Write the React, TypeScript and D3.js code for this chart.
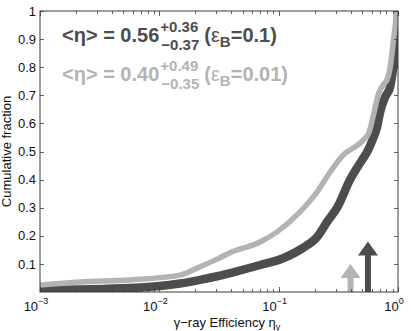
import { useEffect, useRef } from 'react';
import * as d3 from 'd3';

// ── Data (eta, cumulative fraction) ───────────────────────────────────────
const etaB01 = [0.001, 0.00567, 0.0149, 0.0219, 0.0305, 0.0415, 0.0699, 0.109, 0.16, 0.21, 0.255, 0.309, 0.397, 0.50, 0.551, 0.61, 0.668, 0.708, 0.78, 0.859, 0.90, 0.982, 1.0];
const cdfB01 = [0.007, 0.014, 0.03, 0.043, 0.056, 0.07, 0.096, 0.12, 0.157, 0.196, 0.25, 0.30, 0.40, 0.47, 0.498, 0.54, 0.587, 0.64, 0.694, 0.73, 0.78, 0.897, 1.0];

const etaB001 = [0.001, 0.00216, 0.00567, 0.0149, 0.0207, 0.0305, 0.0392, 0.0699, 0.097, 0.151, 0.21, 0.27, 0.347, 0.51, 0.573, 0.617, 0.69, 0.75, 0.81, 0.86, 0.91, 0.98];
const cdfB001 = [0.025, 0.036, 0.043, 0.06, 0.085, 0.117, 0.14, 0.178, 0.214, 0.285, 0.356, 0.427, 0.487, 0.54, 0.569, 0.623, 0.708, 0.737, 0.755, 0.80, 0.886, 1.0];

// median arrows: [eta, arrow tip height]
const arrowB01 = [0.56, 0.18];
const arrowB001 = [0.40, 0.10];

const legendRows = [
  { med: '0.56', up: '+0.36', lo: '\u22120.37', eps: '0.1', color: '#4d4d4d' },
  { med: '0.40', up: '+0.49', lo: '\u22120.35', eps: '0.01', color: '#b3b3b3' },
];

const yTicks = [0.1, 0.2, 0.3, 0.4, 0.5, 0.6, 0.7, 0.8, 0.9, 1];
const xMajor = [1e-3, 1e-2, 1e-1, 1];
const xLabels = ['\u22123', '\u22122', '\u22121', '0'];

const DARK = '#4d4d4d';
const LIGHT = '#b3b3b3';
const FONT = '"Liberation Sans", Arial, Helvetica, sans-serif';

export default function App() {
  const svgRef = useRef<SVGSVGElement>(null);

  const W = 411, H = 331;
  const margin = { top: 11, right: 13, bottom: 39, left: 40 };
  const innerW = W - margin.left - margin.right;
  const innerH = H - margin.top - margin.bottom;

  useEffect(() => {
    if (!svgRef.current) return;
    const svg = d3.select(svgRef.current);
    svg.selectAll('*').remove();

    const x = d3.scaleLog().domain([1e-3, 1]).range([0, innerW]);
    const y = d3.scaleLinear().domain([0, 1]).range([innerH, 0]);

    const g = svg.append('g').attr('transform', `translate(${margin.left},${margin.top})`);

    svg.append('defs').append('clipPath').attr('id', 'plotClip')
      .append('rect').attr('width', innerW).attr('height', innerH);

    // Curves
    const line = d3.line<[number, number]>()
      .x(d => x(d[0])).y(d => y(d[1]))
      .curve(d3.curveMonotoneX);

    const curves = g.append('g').attr('clip-path', 'url(#plotClip)');
    curves.append('path')
      .datum(etaB01.map((e, i) => [e, cdfB01[i]] as [number, number]))
      .attr('d', line).attr('fill', 'none')
      .attr('stroke', DARK).attr('stroke-width', 8.5).attr('stroke-linejoin', 'round');
    curves.append('path')
      .datum(etaB001.map((e, i) => [e, cdfB001[i]] as [number, number]))
      .attr('d', line).attr('fill', 'none')
      .attr('stroke', LIGHT).attr('stroke-width', 5.5).attr('stroke-linejoin', 'round');

    // Median arrows
    const arrow = (a: number[], color: string) => {
      const cx = x(a[0]), tip = y(a[1]), base = y(0);
      const hw = 10, hh = 14, sw = 3;
      g.append('path')
        .attr('d', `M${cx - sw},${base}L${cx - sw},${tip + hh}L${cx - hw},${tip + hh}L${cx},${tip}L${cx + hw},${tip + hh}L${cx + sw},${tip + hh}L${cx + sw},${base}Z`)
        .attr('fill', color);
    };
    arrow(arrowB001, LIGHT);
    arrow(arrowB01, DARK);

    // Box + ticks (inward, MATLAB style)
    const axisColor = '#3a3a3a';
    g.append('rect').attr('width', innerW).attr('height', innerH)
      .attr('fill', 'none').attr('stroke', axisColor).attr('stroke-width', 1);

    const minor: number[] = [];
    for (let p = -3; p < 0; p++) for (let k = 2; k <= 9; k++) minor.push(k * Math.pow(10, p));

    const tickG = g.append('g').attr('stroke', axisColor).attr('stroke-width', 0.8);
    xMajor.concat(minor).forEach(v => {
      const len = xMajor.includes(v) ? 5 : 3;
      const px = Math.round(x(v)) + 0.5;
      tickG.append('line').attr('x1', px).attr('x2', px).attr('y1', innerH).attr('y2', innerH - len);
      tickG.append('line').attr('x1', px).attr('x2', px).attr('y1', 0).attr('y2', len);
    });
    yTicks.forEach(v => {
      const py = Math.round(y(v)) + 0.5;
      tickG.append('line').attr('x1', 0).attr('x2', 4).attr('y1', py).attr('y2', py);
      tickG.append('line').attr('x1', innerW).attr('x2', innerW - 4).attr('y1', py).attr('y2', py);
    });

    // Tick labels
    yTicks.forEach(v => {
      g.append('text')
        .attr('x', -4).attr('y', y(v)).attr('dy', '0.36em')
        .attr('text-anchor', 'end')
        .style('font-family', FONT).style('font-size', '13px').style('fill', '#111')
        .text(v === 1 ? '1' : d3.format('.1f')(v));
    });
    xMajor.forEach((v, i) => {
      const t = g.append('text')
        .attr('x', x(v) - 4).attr('y', innerH + 19)
        .attr('text-anchor', 'middle')
        .style('font-family', FONT).style('font-size', '13px').style('fill', '#111');
      t.append('tspan').text('10');
      t.append('tspan').attr('dy', -7).style('font-size', '9px').text(xLabels[i]);
    });

    // Axis labels
    const xl = g.append('text')
      .attr('x', innerW / 2 + 8).attr('y', innerH + 35)
      .attr('text-anchor', 'middle')
      .style('font-family', FONT).style('font-size', '13px').style('fill', '#111');
    xl.append('tspan').text('\u03b3\u2212ray Efficiency \u03b7');
    xl.append('tspan').attr('dy', 3).style('font-size', '9px').text('\u03b3');

    g.append('text')
      .attr('transform', 'rotate(-90)')
      .attr('x', -innerH / 2).attr('y', -29)
      .attr('text-anchor', 'middle')
      .style('font-family', FONT).style('font-size', '13px').style('fill', '#111')
      .text('Cumulative fraction');

    // Legend text with stacked super/subscripts
    legendRows.forEach((r, i) => {
      const baseY = 42 + i * 39;
      const lg = svg.append('g').style('font-family', FONT).style('font-weight', 'bold').style('fill', r.color);
      const main = lg.append('text').attr('x', 62).attr('y', baseY).style('font-size', '20px')
        .text(`<\u03b7> = ${r.med}`);
      const w0 = (main.node() as SVGTextElement).getComputedTextLength();
      const sx = 62 + w0 + 1;
      const up = lg.append('text').attr('x', sx).attr('y', baseY - 10).style('font-size', '15px').text(r.up);
      const lo = lg.append('text').attr('x', sx + 1).attr('y', baseY + 8).style('font-size', '15px').text(r.lo);
      const w1 = Math.max(
        (up.node() as SVGTextElement).getComputedTextLength(),
        (lo.node() as SVGTextElement).getComputedTextLength() + 1,
      );
      const tx = sx + w1 + 5;
      const eps = lg.append('text').attr('x', tx).attr('y', baseY).style('font-size', '20px');
      eps.append('tspan').text('(');
      eps.append('tspan').style('font-weight', 'normal').text('\u03b5');
      eps.append('tspan').attr('dy', 5).style('font-size', '15px').text('B');
      eps.append('tspan').attr('dy', -5).text(`=${r.eps})`);
    });
  }, []);

  return (
    <div style={{ position: 'fixed', left: 0, top: 0, width: W, height: H, background: '#fff' }}>
      <svg ref={svgRef} width={W} height={H} style={{ display: 'block' }} />
    </div>
  );
}
